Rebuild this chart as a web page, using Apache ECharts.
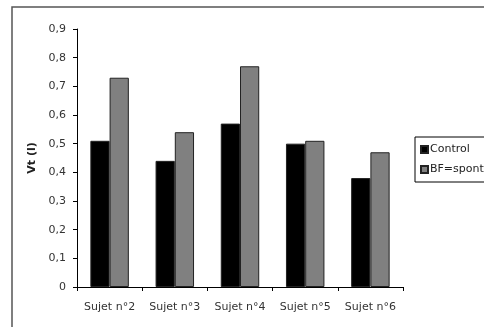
<!DOCTYPE html>
<html>
<head>
<meta charset="utf-8">
<script src="https://cdn.jsdelivr.net/npm/echarts@6/dist/echarts.min.js"></script>
<style>
  html, body { margin: 0; padding: 0; background: #fff; }
  #chart { width: 484px; height: 327px; }
</style>
</head>
<body>
<div id="chart"></div>
<script>
// Tidal volume per subject, two conditions
const categories = ['Sujet n°2', 'Sujet n°3', 'Sujet n°4', 'Sujet n°5', 'Sujet n°6'];
const controlValues = [0.51, 0.44, 0.57, 0.50, 0.38];
const bfValues = [0.73, 0.54, 0.77, 0.51, 0.47];
const seriesNames = ['Control', 'BF=spontanée'];
const yAxisTitle = 'Vt (l)';

const font = 'DejaVu Sans, Verdana, sans-serif';
const chart = echarts.init(document.getElementById('chart'), null, { renderer: 'canvas' });

chart.setOption({
  animation: false,
  backgroundColor: '#fff',
  graphic: [{
    type: 'rect',
    shape: { x: 12, y: 7, width: 520, height: 360 },
    style: { fill: 'none', stroke: '#555', lineWidth: 1.5 },
    silent: true
  }],
  grid: { left: 77, right: 81, top: 29, bottom: 40 },
  legend: {
    orient: 'vertical',
    left: 415,
    top: 137,
    padding: [7, 40, 7, 5],
    itemWidth: 7,
    itemHeight: 7,
    itemGap: 9,
    borderColor: '#000',
    borderWidth: 1,
    icon: 'rect',
    textStyle: { fontFamily: font, fontSize: 11, color: '#222', padding: [0, 0, 0, -3] },
    data: seriesNames
  },
  xAxis: {
    type: 'category',
    data: categories,
    axisLine: { lineStyle: { color: '#000', width: 1 } },
    axisTick: { show: true, length: 4, interval: 0, lineStyle: { color: '#000' } },
    axisLabel: { fontFamily: font, fontSize: 11, color: '#333', margin: 15, interval: 0 }
  },
  yAxis: {
    type: 'value',
    min: 0,
    max: 0.9,
    interval: 0.1,
    name: yAxisTitle,
    nameLocation: 'middle',
    nameGap: 36,
    nameRotate: 90,
    nameTextStyle: { fontFamily: font, fontSize: 11, fontWeight: 'bold', color: '#222' },
    axisLine: { show: true, lineStyle: { color: '#000', width: 1 } },
    axisTick: { show: true, length: 4, lineStyle: { color: '#000' } },
    splitLine: { show: false },
    axisLabel: {
      fontFamily: font, fontSize: 11, color: '#333', margin: 11,
      formatter: v => (Math.round(v * 10) / 10).toString().replace('.', ',')
    }
  },
  series: [
    {
      name: seriesNames[0],
      type: 'bar',
      data: controlValues,
      barGap: '0%',
      barCategoryGap: '41%',
      itemStyle: { color: '#000', borderColor: '#222', borderWidth: 1 }
    },
    {
      name: seriesNames[1],
      type: 'bar',
      data: bfValues,
      barGap: '0%',
      barCategoryGap: '41%',
      itemStyle: { color: '#808080', borderColor: '#222', borderWidth: 1 }
    }
  ]
});
</script>
</body>
</html>
